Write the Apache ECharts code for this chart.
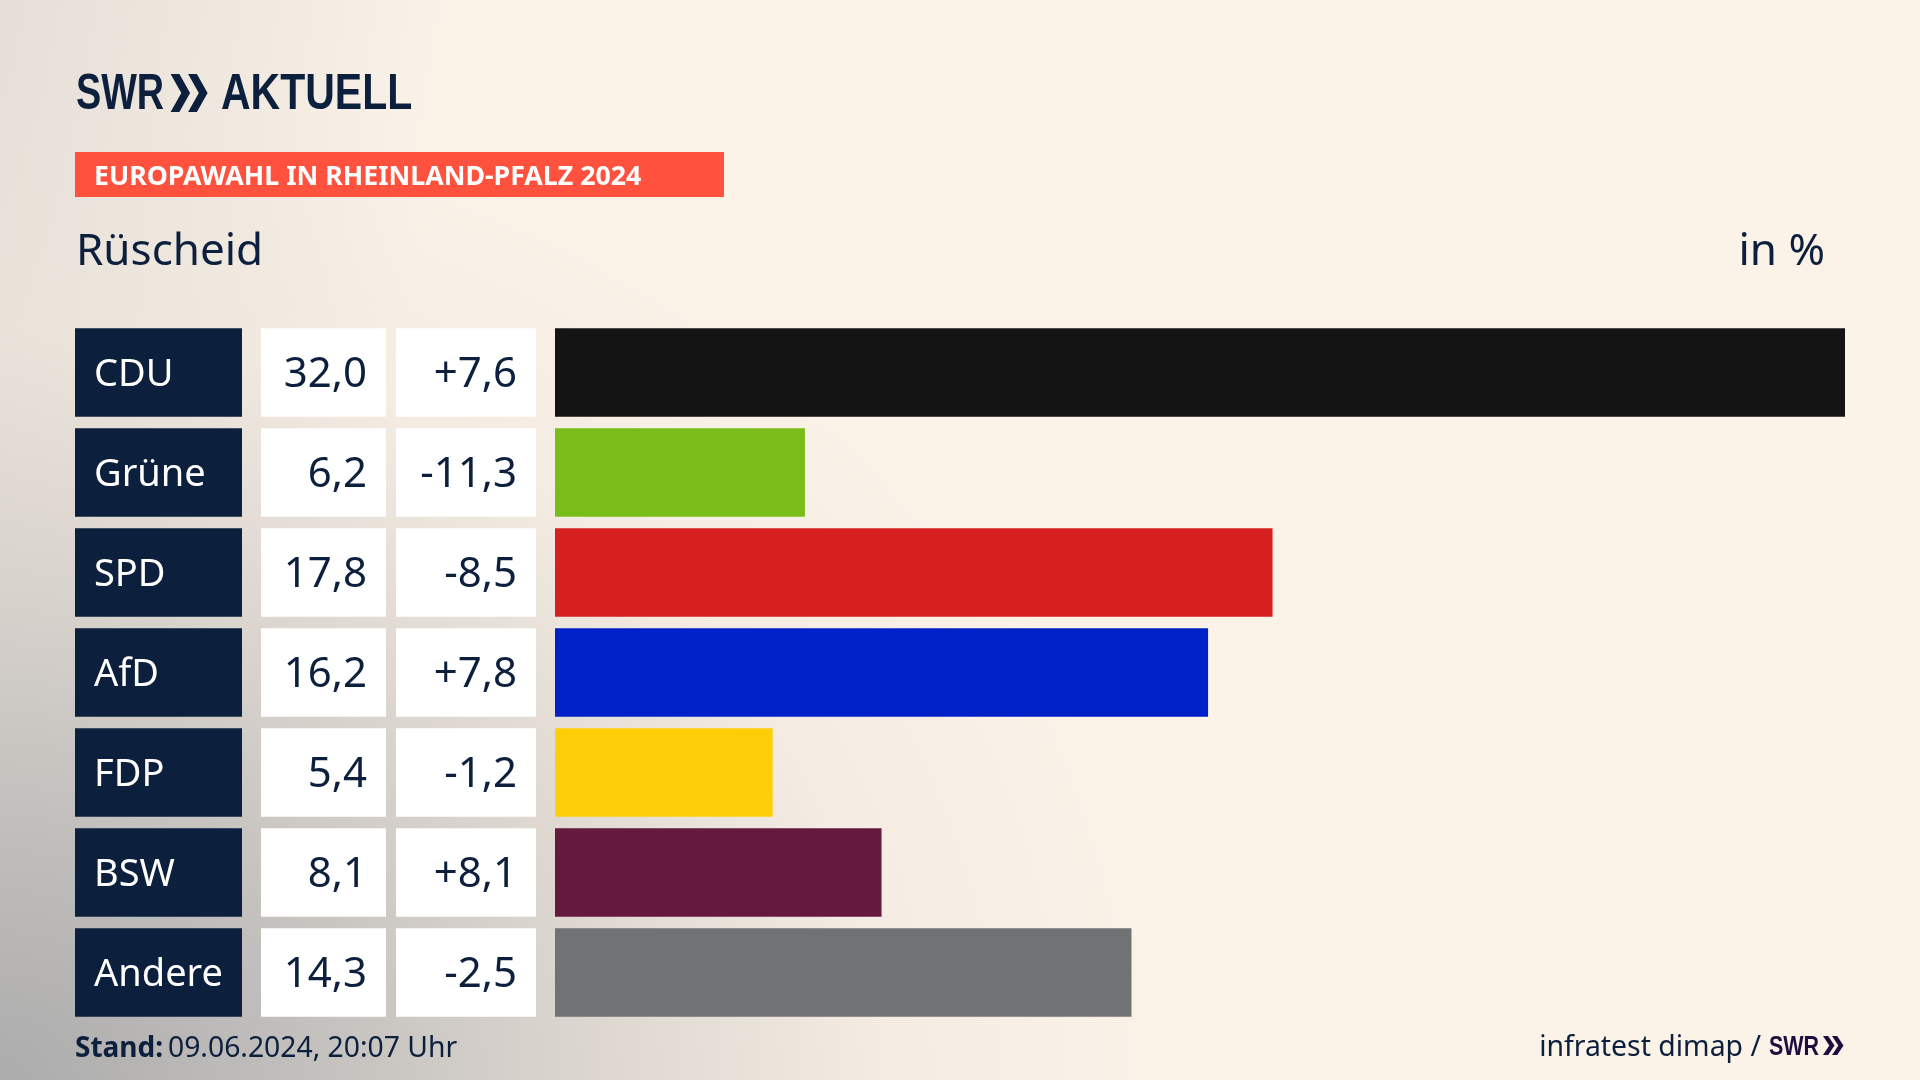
<!DOCTYPE html>
<html lang="de">
<head>
<meta charset="utf-8">
<title>Europawahl in Rheinland-Pfalz 2024 – Rüscheid</title>
<script src="https://cdn.jsdelivr.net/npm/echarts@6/dist/echarts.min.js"></script>
<style>
html,body{margin:0;padding:0;width:1920px;height:1080px;overflow:hidden;background-color:#fbf2e8;
background-image:
radial-gradient(ellipse 1180px 1000px at 0px 1080px,rgba(172,172,172,1) 0%,rgba(190,188,186,.95) 25%,rgba(212,207,201,.8) 50%,rgba(235,228,219,.42) 75%,rgba(251,242,232,0) 100%),
linear-gradient(100deg,rgba(214,210,204,.6) 0%,rgba(251,242,232,0) 22%);}
#chart{position:absolute;left:0;top:0;width:1920px;height:1080px}
</style>
</head>
<body>
<div id="chart"></div>
<script>
const parties = ['CDU','Grüne','SPD','AfD','FDP','BSW','Andere'];
const shares = [32.0,6.2,17.8,16.2,5.4,8.1,14.3];
const changes = [7.6,-11.3,-8.5,7.8,-1.2,8.1,-2.5];
const partyColors = ['#141414','#7abd1a','#d61f1f','#0021c8','#ffce0a','#65193f','#707274'];
const cellFill = [1,1,1,1,1,1,1];

const NAVY='#0c1f3d';
const FONT='"Noto Sans"';
const fmt = v => v.toFixed(1).replace('.',',');
const fmtChange = v => (v>0?'+':'')+fmt(v);

const columns = [
  {left:75, width:167},
  {left:261,width:125},
  {left:396,width:140},
  {left:555,width:1290}
];
const grid = columns.map(c=>({left:c.left,width:c.width,top:322.4,height:700,containLabel:false}));
const xAxis = columns.map((c,i)=>({type:'value',gridIndex:i,min:0,max:i===3?32:1,show:false}));
const yAxis = columns.map((c,i)=>({type:'category',gridIndex:i,data:parties,inverse:true,show:false}));

function cellSeries(idx,color,textColor,pos,dist,size,texts){
  return {type:'bar',xAxisIndex:idx,yAxisIndex:idx,barWidth:88.5,data:cellFill,silent:true,
    itemStyle:{color},
    label:{show:true,position:pos,distance:dist,offset:[0,3],color:textColor,fontFamily:FONT,fontSize:size,
      formatter:p=>texts[p.dataIndex]}};
}

function chevrons(x,y,h,w,gap,color){
  const t=w*0.45, out=[];
  [0,gap].forEach(dx=>{
    out.push({type:'polygon',silent:true,shape:{points:[[x+dx,y],[x+dx+t,y],[x+dx+w,y+h/2],[x+dx+t,y+h],[x+dx,y+h],[x+dx+w-t,y+h/2]]},style:{fill:color}});
  });
  return out;
}
// baseline: alphabetic baseline of the text in px; size: font size in px
function txt(text,x,baseline,weight,size,family,fill,align,scaleX){
  return {type:'text',x,y:baseline-size*0.82,scaleX:scaleX||1,silent:true,
    style:{text,font:weight+' '+size+'px '+family,fill,textAlign:align||'left'}};
}
const LOGO='"Liberation Sans"';

const chart = echarts.init(document.getElementById('chart'),null,{renderer:'canvas',width:1920,height:1080});
chart.setOption({
  animation:false,
  backgroundColor:'transparent',
  grid,xAxis,yAxis,
  series:[
    cellSeries(0,NAVY,'#ffffff','insideLeft',19,38,parties),
    cellSeries(1,'#ffffff',NAVY,'insideRight',19,42,shares.map(fmt)),
    cellSeries(2,'#ffffff',NAVY,'insideRight',19,42,changes.map(fmtChange)),
    {type:'bar',xAxisIndex:3,yAxisIndex:3,barWidth:88.5,silent:true,
     data:shares.map((v,i)=>({value:v,itemStyle:{color:partyColors[i]}}))}
  ],
  graphic:[
    {type:'rect',silent:true,shape:{x:75,y:152,width:649,height:45},style:{fill:'#ff523e'}},
    txt('SWR',76,111.5,'bold',49.4,LOGO,NAVY,'left',0.765),
    ...chevrons(170.6,74,38,19.5,17.5,NAVY),
    txt('AKTUELL',221,111.5,'bold',49.4,LOGO,NAVY,'left',0.83),
    txt('EUROPAWAHL IN RHEINLAND-PFALZ 2024',94,186,'bold',27,FONT,'#ffffff','left',0.99),
    txt('Rüscheid',76,266.5,'normal',44,FONT,NAVY),
    txt('in %',1825,266.5,'normal',44,FONT,NAVY,'right'),
    txt('Stand:',75,1058,'bold',28,FONT,NAVY),
    txt('09.06.2024, 20:07 Uhr',168,1058,'normal',28.3,FONT,NAVY),
    txt('infratest dimap /',1761,1057,'normal',28.4,FONT,NAVY,'right'),
    txt('SWR',1769,1056,'bold',27.5,LOGO,'#1e0e40','left',0.78),
    ...chevrons(1823,1036,19,11.5,9,'#1e0e40')
  ]
});
</script>
</body>
</html>
